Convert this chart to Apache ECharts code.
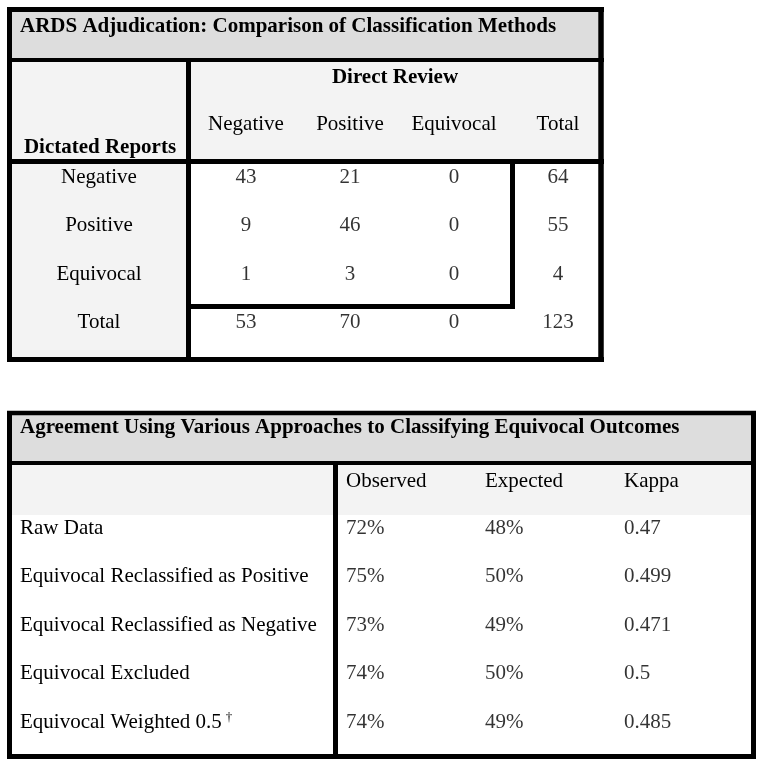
<!DOCTYPE html>
<html>
<head>
<meta charset="utf-8">
<script src="https://cdn.jsdelivr.net/npm/echarts@6/dist/echarts.min.js"></script>
<style>
html,body{margin:0;padding:0;background:#fff;}
#chart{width:764px;height:768px;}
</style>
</head>
<body>
<div id="chart"></div>
<script>
// ---- Table 1 data ----
const t1Title = 'ARDS Adjudication: Comparison of Classification Methods';
const t1ColGroup = 'Direct Review';
const t1RowGroup = 'Dictated Reports';
const t1Cols = ['Negative', 'Positive', 'Equivocal', 'Total'];
const t1Rows = ['Negative', 'Positive', 'Equivocal', 'Total'];
const t1RowNegative = [43, 21, 0, 64];
const t1RowPositive = [9, 46, 0, 55];
const t1RowEquivocal = [1, 3, 0, 4];
const t1RowTotal = [53, 70, 0, 123];

// ---- Table 2 data ----
const t2Title = 'Agreement Using Various Approaches to Classifying Equivocal Outcomes';
const t2Cols = ['Observed', 'Expected', 'Kappa'];
const t2Rows = ['Raw Data', 'Equivocal Reclassified as Positive', 'Equivocal Reclassified as Negative', 'Equivocal Excluded', 'Equivocal Weighted 0.5'];
const t2Notes = ['', '', '', '', '\u2020'];
const t2Observed = [72, 75, 73, 74, 74];
const t2Expected = [48, 50, 49, 50, 49];
const t2Kappa = [0.47, 0.499, 0.471, 0.5, 0.485];

const FONT = '"Liberation Serif", "Times New Roman", serif';
const FS = 21;
const TITLE_BG = '#dddddd';
const HEAD_BG = '#f3f3f3';
const LINE = '#000';

const t1Matrix = [t1RowNegative, t1RowPositive, t1RowEquivocal, t1RowTotal];
const t1Data = [];
t1Matrix.forEach((row, r) => row.forEach((v, c) => t1Data.push([c, r, v])));

const t2Data = [];
t2Rows.forEach((_, r) => {
  t2Data.push([0, r, t2Observed[r] + '%']);
  t2Data.push([1, r, t2Expected[r] + '%']);
  t2Data.push([2, r, String(t2Kappa[r])]);
});

const hiddenAxis = {
  axisLine: {show: false}, axisTick: {show: false}, splitLine: {show: false}
};

function rect(x1, y1, x2, y2, fill) {
  return {type: 'rect', z: -10, silent: true, shape: {x: x1, y: y1, width: x2 - x1, height: y2 - y1}, style: {fill: fill}};
}
function line(x1, y1, x2, y2, w) {
  return {type: 'line', z: 10, silent: true, shape: {x1, y1, x2, y2}, style: {stroke: LINE, lineWidth: w}};
}
function text(t, x, y, align, bold) {
  return {type: 'text', z: 20, silent: true, style: {text: t, x, y, align: align, verticalAlign: 'middle', font: (bold ? 'bold ' : '') + FS + 'px ' + FONT, fill: '#000'}};
}

const option = {
  backgroundColor: '#fff',
  animation: false,
  grid: [
    {left: 12, width: 174, top: 177.5, height: 145},
    {left: 194, width: 416, top: 177.5, height: 145},
    {left: 20, width: 300, top: 528, height: 194},
    {left: 346, width: 278, top: 528, height: 194}
  ],
  xAxis: [
    Object.assign({gridIndex: 0, type: 'category', data: [''], axisLabel: {show: false}}, hiddenAxis),
    Object.assign({gridIndex: 1, type: 'category', data: t1Cols, position: 'top',
      axisLabel: {interval: 0, margin: 53, verticalAlign: 'middle', fontFamily: FONT, fontSize: FS, color: '#000'}}, hiddenAxis),
    Object.assign({gridIndex: 2, type: 'value', min: 0, max: 1, axisLabel: {show: false}}, hiddenAxis),
    Object.assign({gridIndex: 3, type: 'category', data: t2Cols, position: 'top', boundaryGap: false,
      axisLabel: {interval: 0, margin: 47, align: 'left', verticalAlign: 'middle', fontFamily: FONT, fontSize: FS, color: '#000'}}, hiddenAxis)
  ],
  yAxis: [
    Object.assign({gridIndex: 0, type: 'category', data: t1Rows, inverse: true, boundaryGap: false,
      axisLabel: {interval: 0, inside: true, margin: 87, align: 'center', verticalAlign: 'middle', fontFamily: FONT, fontSize: FS, color: '#000'}}, hiddenAxis),
    Object.assign({gridIndex: 1, type: 'category', data: t1Rows, inverse: true, boundaryGap: false, axisLabel: {show: false}}, hiddenAxis),
    Object.assign({gridIndex: 2, type: 'category', data: t2Rows, inverse: true, boundaryGap: false,
      axisLabel: {interval: 0, inside: true, margin: 0, align: 'left', verticalAlign: 'middle', fontFamily: FONT, fontSize: FS, color: '#000',
        formatter: (v, i) => t2Notes[i] ? v + '{sup|' + t2Notes[i] + '}' : v,
        rich: {sup: {fontFamily: FONT, fontSize: 13, color: '#000', verticalAlign: 'top', padding: [0, 0, 8, 4]}}}}, hiddenAxis),
    Object.assign({gridIndex: 3, type: 'category', data: t2Rows, inverse: true, boundaryGap: false, axisLabel: {show: false}}, hiddenAxis)
  ],
  series: [
    {type: 'scatter', xAxisIndex: 0, yAxisIndex: 0, data: t1Rows.map((_, i) => [0, i]), symbolSize: 0, silent: true},
    {type: 'scatter', xAxisIndex: 1, yAxisIndex: 1, data: t1Data, symbolSize: 1, silent: true,
      itemStyle: {color: 'rgba(0,0,0,0)'},
      label: {show: true, position: 'inside', formatter: p => p.value[2], fontFamily: FONT, fontSize: FS, color: '#000'}},
    {type: 'scatter', xAxisIndex: 2, yAxisIndex: 2, data: t2Rows.map((_, i) => [0, i]), symbolSize: 0, silent: true},
    {type: 'scatter', xAxisIndex: 3, yAxisIndex: 3, data: t2Data, symbolSize: 1, silent: true,
      itemStyle: {color: 'rgba(0,0,0,0)'},
      label: {show: true, position: 'inside', align: 'left', formatter: p => p.value[2], fontFamily: FONT, fontSize: FS, color: '#000'}}
  ],
  graphic: [
    // Table 1 backgrounds
    rect(12, 12, 598, 58, TITLE_BG),
    rect(12, 62, 598, 159, HEAD_BG),
    rect(12, 164, 186, 357, HEAD_BG),
    // Table 1 borders
    line(7, 9.5, 604, 9.5, 5),
    line(7, 359.5, 604, 359.5, 5),
    line(9.5, 7, 9.5, 362, 5),
    line(601, 7, 601, 362, 5.5),
    line(7, 60, 604, 60, 4),
    line(7, 161.5, 604, 161.5, 5),
    line(188.5, 60, 188.5, 362, 5),
    line(512.5, 161.5, 512.5, 309, 5),
    line(186, 306.5, 515, 306.5, 5),
    // Table 1 header texts
    text(t1Title, 20, 26.5, 'left', true),
    text(t1ColGroup, 395, 78, 'center', true),
    text(t1RowGroup, 100, 148, 'center', true),
    // Table 2 backgrounds
    rect(12, 415, 751, 461, TITLE_BG),
    rect(12, 465, 751, 515, HEAD_BG),
    // Table 2 borders
    line(7, 413, 756, 413, 4.5),
    line(7, 756.5, 756, 756.5, 5),
    line(9.5, 411, 9.5, 759, 5),
    line(753.5, 411, 753.5, 759, 5),
    line(7, 463, 756, 463, 4),
    line(335.5, 463, 335.5, 759, 5),
    text(t2Title, 20, 427.5, 'left', true)
  ]
};

const chart = echarts.init(document.getElementById('chart'), null, {renderer: 'canvas'});
chart.setOption(option);
</script>
</body>
</html>
